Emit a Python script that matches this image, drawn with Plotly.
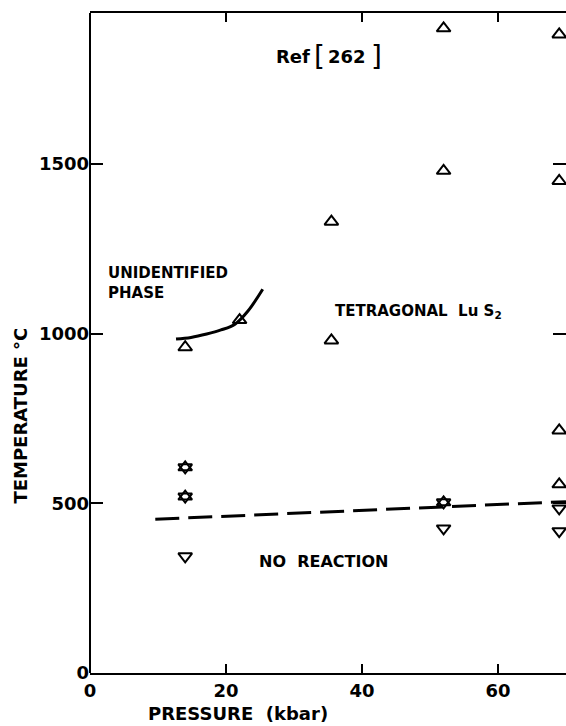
import plotly.graph_objects as go

# Run conditions: pressure (kbar) and temperature (deg C)
up_p = [14, 22, 35.5, 35.5, 52, 52, 69, 69, 69, 69]          # tetragonal LuS2 formed
up_t = [960, 1040, 1330, 980, 1900, 1480, 1882, 1450, 715, 556]
down_p = [14, 52, 69, 69]                                      # no reaction
down_t = [344, 426, 485, 418]
both_p = [14, 14, 52]                                          # partial reaction
both_t = [606, 520, 503]

# Phase boundaries
bound_p = [12.65, 14.85, 17.16, 19.26, 21.32, 23.2, 25.4]
bound_t = [984, 989, 999, 1011, 1028, 1066, 1131]
react_p = [9.6, 70]
react_t = [453, 505]

x_ticks = [0, 20, 40, 60]
y_ticks = [0, 500, 1000, 1500]

FONT = "DejaVu Sans"
INK = "black"

fig = go.Figure()

fig.add_trace(go.Scatter(x=bound_p, y=bound_t, mode="lines",
                         line=dict(color=INK, width=3, shape="spline", smoothing=1.0),
                         hoverinfo="skip"))
fig.add_trace(go.Scatter(x=react_p, y=react_t, mode="lines",
                         line=dict(color=INK, width=3, dash="24px,9px"),
                         hoverinfo="skip"))

tri = dict(size=12, color=INK, line=dict(width=2, color=INK))
fig.add_trace(go.Scatter(x=up_p, y=up_t, mode="markers",
                         marker=dict(symbol="triangle-up-open", **tri)))
fig.add_trace(go.Scatter(x=down_p, y=down_t, mode="markers",
                         marker=dict(symbol="triangle-down-open", **tri)))
fig.add_trace(go.Scatter(x=both_p, y=both_t, mode="markers",
                         marker=dict(symbol="triangle-up-open", **tri)))
fig.add_trace(go.Scatter(x=both_p, y=both_t, mode="markers",
                         marker=dict(symbol="triangle-down-open", **tri)))

lab = dict(family=FONT, size=15, color=INK, weight="bold")
fig.add_annotation(x=2.3, y=1150, text="UNIDENTIFIED<br>PHASE", showarrow=False,
                   xanchor="left", yanchor="middle", align="left", font=lab)
fig.add_annotation(x=35.8, y=1065, text="TETRAGONAL  Lu S<sub>2</sub>", showarrow=False,
                   xanchor="left", yanchor="middle", font=lab)
fig.add_annotation(x=24.6, y=330, text="NO  REACTION", showarrow=False,
                   xanchor="left", yanchor="middle",
                   font=dict(family=FONT, size=16, color=INK, weight="bold"))

# reference tag with tall brackets
ref_font = dict(family=FONT, size=18, color=INK, weight="bold")
brk_font = dict(family=FONT, size=28, color=INK, weight="normal")
fig.add_annotation(x=27.1, y=1818, text="Ref", showarrow=False,
                   xanchor="left", yanchor="middle", font=ref_font)
fig.add_annotation(x=33.8, y=1818, text="[", showarrow=False,
                   xanchor="center", yanchor="middle", font=brk_font)
fig.add_annotation(x=37.8, y=1818, text="262", showarrow=False,
                   xanchor="center", yanchor="middle", font=ref_font)
fig.add_annotation(x=42.2, y=1818, text="]", showarrow=False,
                   xanchor="center", yanchor="middle", font=brk_font)

fig.add_annotation(xref="paper", yref="paper", x=-0.145, y=0.39,
                   text="TEMPERATURE °C", textangle=-90, showarrow=False,
                   xanchor="center", yanchor="middle",
                   font=dict(family=FONT, size=18, color=INK, weight="bold"))
fig.add_annotation(xref="paper", yref="paper", x=0.31, y=-0.062,
                   text="PRESSURE  (kbar)", showarrow=False,
                   xanchor="center", yanchor="middle",
                   font=dict(family=FONT, size=18, color=INK, weight="bold"))

# left spine (right side keeps only tick marks)
fig.add_shape(type="line", xref="paper", yref="paper", x0=0, x1=0, y0=0, y1=1,
              line=dict(color=INK, width=2))

fig.update_xaxes(range=[0, 70], tickvals=x_ticks, ticks="inside", ticklen=9,
                 tickwidth=2, tickcolor=INK, showline=True, linewidth=2,
                 linecolor=INK, mirror="ticks", showgrid=False, zeroline=False,
                 tickfont=dict(family=FONT, size=18, color=INK, weight="bold"))
fig.update_yaxes(range=[0, 1945], tickvals=y_ticks, ticks="inside", ticklen=13,
                 tickwidth=2, tickcolor=INK, showline=False, mirror="ticks",
                 showgrid=False, zeroline=False,
                 tickfont=dict(family=FONT, size=18, color=INK, weight="bold"))

fig.update_layout(width=566, height=726, showlegend=False,
                  margin=dict(l=90, r=0, t=13, b=53),
                  plot_bgcolor="white", paper_bgcolor="white")

fig.write_html("out.html")
